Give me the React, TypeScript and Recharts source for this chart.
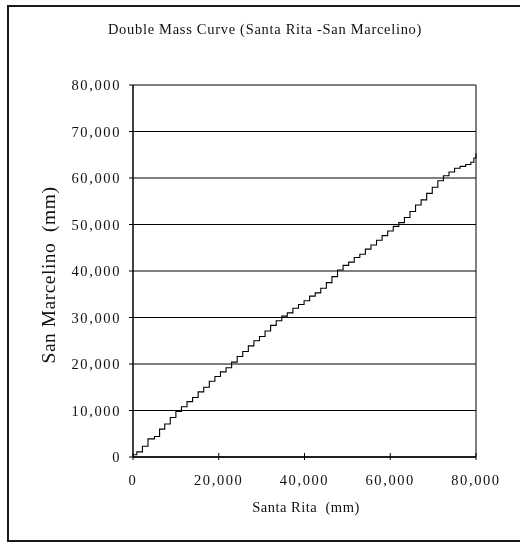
import React from "react";
import { LineChart, Line, XAxis, YAxis, CartesianGrid, ReferenceLine, Label } from "recharts";

// cumulative rainfall, mm
const santaRita = [
  0, 900, 2200, 3500, 5000, 6200, 7400, 8700, 10000, 11300, 12600, 13900, 15200, 16500, 17800, 19100,
  20400, 21700, 23000, 24300, 25600, 26900, 28200, 29500, 30800, 32100, 33400, 34700, 36000, 37300,
  38600, 39900, 41200, 42500, 43800, 45100, 46400, 47700, 49000, 50300, 51600, 52900, 54200, 55500,
  56800, 58100, 59400, 60700, 62000, 63300, 64600, 65900, 67200, 68500, 69800, 71100, 72400, 73700,
  75000, 76300, 77600, 78800, 79500, 80000,
];
const sanMarcelino = [
  500, 1100, 2300, 3900, 4400, 6000, 7100, 8500, 9800, 10800, 11900, 12800, 14000, 15000, 16300, 17300,
  18300, 19200, 20400, 21600, 22700, 23900, 25000, 25900, 27100, 28300, 29300, 30300, 31000, 32000,
  32800, 33600, 34600, 35300, 36300, 37500, 38800, 40200, 41200, 41900, 42900, 43600, 44700, 45600,
  46600, 47600, 48600, 49600, 50400, 51500, 52800, 54200, 55300, 56700, 58000, 59400, 60500, 61300,
  62100, 62500, 62900, 63400, 64300, 65300,
];
const xTicks = [0, 20000, 40000, 60000, 80000];
const yTicks = [0, 10000, 20000, 30000, 40000, 50000, 60000, 70000, 80000];

const data = santaRita.map((x, i) => ({ x, y: sanMarcelino[i] }));

const serif = "'Liberation Serif', 'DejaVu Serif', serif";
const fmt = (v: number) => v.toLocaleString("en-US");

const XTick = (props: any) => {
  const { x, y, payload } = props;
  return (
    <g>
      <line x1={x} x2={x} y1={y - 4} y2={y + 3} stroke="#000" />
      <text
        x={x}
        y={y + 23}
        textAnchor="middle"
        dominantBaseline="central"
        fontFamily={serif}
        fontSize={14.5}
        fill="#111"
        style={{ letterSpacing: 1.6 }}
      >
        {fmt(payload.value)}
      </text>
    </g>
  );
};

const App = () => {
  return (
    <div>
      <div
        style={{
          position: "fixed",
          left: 7,
          top: 5,
          width: 513,
          height: 537,
          boxSizing: "border-box",
          borderLeft: "2px solid #1a1a1a",
          borderTop: "2px solid #1a1a1a",
          borderBottom: "2px solid #1a1a1a",
        }}
      />
      <div
        style={{
          position: "fixed",
          left: 0,
          top: 21,
          width: 530,
          textAlign: "center",
          fontFamily: serif,
          fontSize: 14.5,
          letterSpacing: 0.7,
          color: "#111",
        }}
      >
        Double Mass Curve (Santa Rita -San Marcelino)
      </div>
      <div style={{ position: "fixed", left: 0, top: 0 }}>
        <LineChart width={520} height={544} data={data} margin={{ top: 85, right: 44, bottom: 47, left: 73 }}>
          <CartesianGrid vertical={false} stroke="#000" strokeWidth={1} />
          <XAxis
            type="number"
            dataKey="x"
            domain={[0, 80000]}
            ticks={xTicks}
            height={40}
            tickSize={0}
            tickMargin={0}
            tickLine={false}
            axisLine={{ stroke: "#000", strokeWidth: 1.5 }}
            tick={<XTick />}
            interval={0}
          >
            <Label
              content={() => (
                <text
                  x={306}
                  y={507}
                  textAnchor="middle"
                  dominantBaseline="central"
                  fontFamily={serif}
                  fontSize={14.5}
                  fill="#111"
                  style={{ whiteSpace: "pre", letterSpacing: 0.5 }}
                >
                  {"Santa Rita  (mm)"}
                </text>
              )}
            />
          </XAxis>
          <YAxis
            type="number"
            domain={[0, 80000]}
            ticks={yTicks}
            width={60}
            tickSize={4}
            tickMargin={8}
            interval={0}
            tickFormatter={fmt}
            tickLine={{ stroke: "#000" }}
            axisLine={{ stroke: "#000", strokeWidth: 1.5 }}
            tick={{ fontFamily: serif, fontSize: 14.5, fill: "#111", style: { letterSpacing: 1.6 } }}
          >
            <Label
              content={() => (
                <text
                  x={48}
                  y={275}
                  transform="rotate(-90 48 275)"
                  textAnchor="middle"
                  dominantBaseline="central"
                  fontFamily={serif}
                  fontSize={19.5}
                  fill="#111"
                  style={{ whiteSpace: "pre", letterSpacing: 0.5 }}
                >
                  {"San Marcelino  (mm)"}
                </text>
              )}
            />
          </YAxis>
          <ReferenceLine x={80000} stroke="#000" strokeWidth={1} />
          <Line
            type="stepAfter"
            dataKey="y"
            stroke="#000"
            strokeWidth={1.1}
            dot={false}
            isAnimationActive={false}
          />
        </LineChart>
      </div>
    </div>
  );
};

export default App;
